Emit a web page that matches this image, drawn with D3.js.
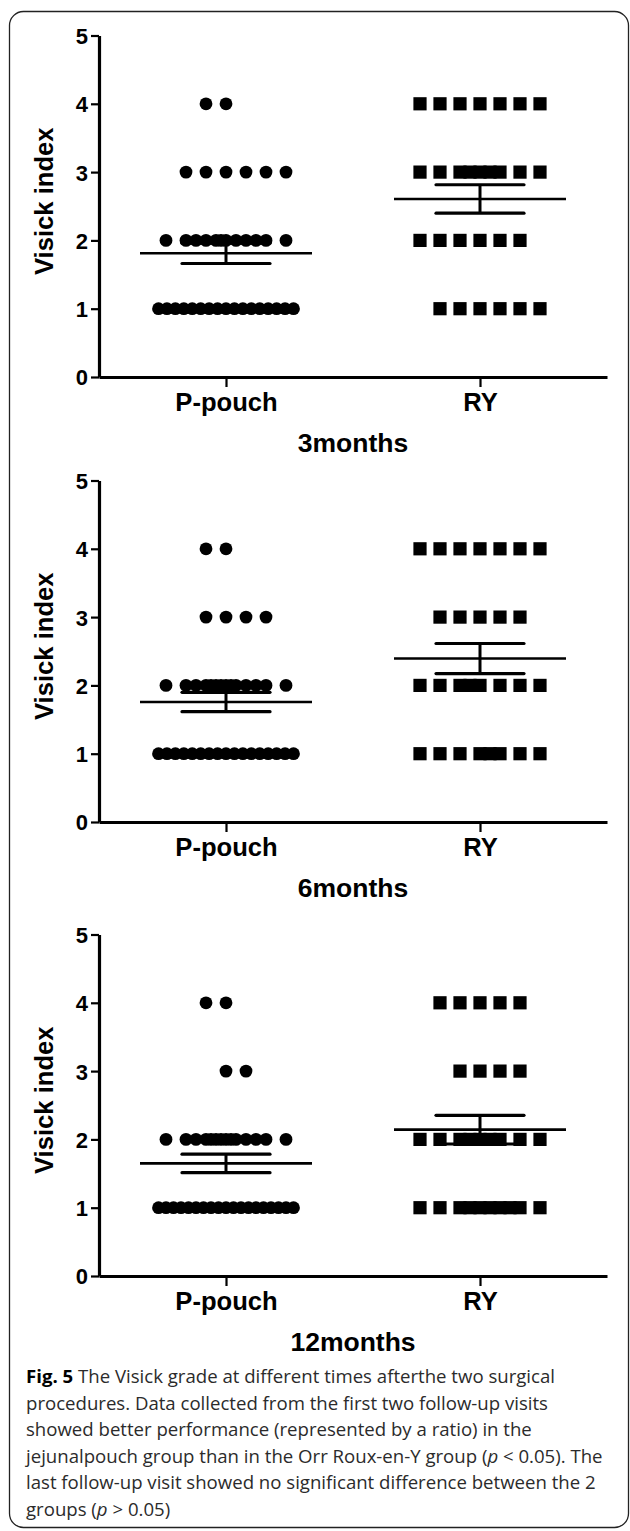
<!DOCTYPE html>
<html>
<head>
<meta charset="utf-8">
<script src="https://d3js.org/d3.v7.min.js"></script>
<style>
  body { margin: 0; background: #fff; }
  .chart text { font-family: "Liberation Sans", Arial, sans-serif; }
  .caption text { font-family: "Open Sans", sans-serif; }
</style>
</head>
<body>
<script>

var groups = ["P-pouch", "RY"];
var grades = [4, 3, 2, 1];
var panelTitles = ["3months", "6months", "12months"];
// number of patients at each Visick grade (4, 3, 2, 1), counted off the dot plots
var pouchCounts = [[2, 6, 12, 17], [2, 4, 14, 17], [2, 2, 14, 19]];
var ryCounts    = [[7, 9, 6, 6],   [7, 5, 8, 8],   [5, 4, 9, 10]];
var yTicks = [0, 1, 2, 3, 4, 5];
var captionLines = [
  "**Fig. 5** The Visick grade at different times afterthe two surgical",
  "procedures. Data collected from the first two follow-up visits",
  "showed better performance (represented by a ratio) in the",
  "jejunalpouch group than in the Orr Roux-en-Y group (*p* < 0.05). The",
  "last follow-up visit showed no significant difference between the 2",
  "groups (*p* > 0.05)"
];

var W = 630, H = 1531;
var zeroY = [377, 822, 1276];
var axisLeft = 99, axisRight = 607, plotH = 341.5;
var pitch = 20;

var svg = d3.select("body").append("svg")
    .attr("width", W)
    .attr("height", H);

svg.append("rect")
    .attr("x", 9.5).attr("y", 11.5)
    .attr("width", 619).attr("height", 1516)
    .attr("rx", 14)
    .attr("fill", "none")
    .attr("stroke", "#222")
    .attr("stroke-width", 1.3);

var x = d3.scalePoint().domain(groups).range([axisLeft, axisRight]).padding(0.5);

// spread of the points in one row, in slot units (Prism style scatter)
function slotOffsets(n, grade) {
  var s = grade % 2 === 0 ? -1 : 1;
  var out = [], i;
  if (n >= 15) {
    for (i = 0; i < n; i++) out.push(-3.375 + 6.75 * i / (n - 1));
    return out;
  }
  if (n <= 7) {
    var start = -(n - 1) / 2 + (n % 2 === 0 ? s * 0.5 : 0);
    for (i = 0; i < n; i++) out.push(start + i);
    return out;
  }
  for (i = -3; i <= 3; i++) out.push(i);
  var extra = [s * 0.5, -s * 0.5, s * 1.5, -s * 1.5, s * 0.25, -s * 0.25,
               s * 0.75, -s * 0.75, s * 1.25, -s * 1.25, s * 1.75, -s * 1.75];
  for (i = 0; i < n - 7; i++) out.push(extra[i]);
  return out;
}

function stats(counts) {
  var vals = [];
  grades.forEach(function(g, i) { for (var k = 0; k < counts[i]; k++) vals.push(g); });
  var m = d3.mean(vals);
  var sem = d3.deviation(vals) / Math.sqrt(vals.length);
  return { mean: m, lo: m - sem, hi: m + sem };
}

var chart = svg.append("g").attr("class", "chart");

panelTitles.forEach(function(title, p) {
  var y = d3.scaleLinear().domain([0, 5]).range([zeroY[p], zeroY[p] - plotH]);
  var g = chart.append("g");

  var yAxis = g.append("g")
      .attr("transform", "translate(" + axisLeft + ",0)")
      .call(d3.axisLeft(y).tickValues(yTicks).tickFormat(d3.format("d")).tickSize(8).tickSizeOuter(0).tickPadding(3));
  var xAxis = g.append("g")
      .attr("transform", "translate(0," + zeroY[p] + ")")
      .call(d3.axisBottom(x).tickSize(10).tickSizeOuter(0).tickPadding(6));

  [yAxis, xAxis].forEach(function(a) {
    a.select(".domain").attr("stroke", "#000").attr("stroke-width", 3.2);
    a.selectAll(".tick line").attr("stroke", "#000").attr("stroke-width", 2.2);
    a.selectAll("text").attr("fill", "#000").attr("font-weight", "bold");
  });
  yAxis.selectAll("text").attr("font-size", 22).attr("dy", "0.36em");
  xAxis.selectAll("text").attr("font-size", 25.6).attr("dy", "0.71em");

  g.append("text")
      .attr("transform", "translate(53," + (zeroY[p] - plotH / 2 - 5) + ") rotate(-90)")
      .attr("text-anchor", "middle")
      .attr("font-size", 25.6)
      .attr("font-weight", "bold")
      .text("Visick index");

  g.append("text")
      .attr("x", (axisLeft + axisRight) / 2)
      .attr("y", zeroY[p] + 74.5)
      .attr("text-anchor", "middle")
      .attr("font-size", 26.5)
      .attr("font-weight", "bold")
      .text(title);

  // points
  [pouchCounts[p], ryCounts[p]].forEach(function(counts, gi) {
    var cx = x(groups[gi]);
    var pts = [];
    grades.forEach(function(gr, i) {
      slotOffsets(counts[i], gr).forEach(function(o) { pts.push({ x: cx + o * pitch, v: gr }); });
    });
    if (gi === 0) {
      g.selectAll(null).data(pts).enter().append("circle")
          .attr("cx", function(d) { return d.x; })
          .attr("cy", function(d) { return y(d.v); })
          .attr("r", 6.4)
          .attr("fill", "#000");
    } else {
      g.selectAll(null).data(pts).enter().append("rect")
          .attr("x", function(d) { return d.x - 6.6; })
          .attr("y", function(d) { return y(d.v) - 6.6; })
          .attr("width", 13.2).attr("height", 13.2)
          .attr("fill", "#000");
    }

    var s = stats(counts);
    g.append("line")
        .attr("x1", cx - 86).attr("x2", cx + 86)
        .attr("y1", y(s.mean)).attr("y2", y(s.mean))
        .attr("stroke", "#000").attr("stroke-width", 2.6);
    g.append("line")
        .attr("x1", cx).attr("x2", cx)
        .attr("y1", y(s.lo)).attr("y2", y(s.hi))
        .attr("stroke", "#000").attr("stroke-width", 3);
    [s.lo, s.hi].forEach(function(v) {
      g.append("line")
          .attr("x1", cx - 44).attr("x2", cx + 44)
          .attr("y1", y(v)).attr("y2", y(v))
          .attr("stroke", "#000").attr("stroke-width", 3.2)
          .attr("stroke-linecap", "round");
    });
  });
});

// caption
var cap = svg.append("g")
    .attr("class", "caption")
    .attr("fill", "#2b2b2b");
var capFont = 18;
var capLines = cap.selectAll("text").data(captionLines).enter().append("text")
    .attr("x", 26)
    .attr("y", function(d, i) { return 1383 + i * 26.6; })
    .attr("font-size", capFont);

capLines.each(function(line) {
  var t = d3.select(this);
  line.split(/(\*\*[^*]+\*\*|\*[^*]+\*)/).forEach(function(part) {
    if (!part) return;
    var ts = t.append("tspan");
    if (part.indexOf("**") === 0) ts.attr("font-weight", "bold").attr("fill", "#000").text(part.slice(2, -2));
    else if (part.indexOf("*") === 0) ts.attr("font-style", "italic").text(part.slice(1, -1));
    else ts.text(part);
  });
});

// match the widest caption line to the picture (about 577px)
var widest = d3.max(capLines.nodes(), function(n) { return n.getComputedTextLength(); });
capLines.attr("font-size", capFont * 577 / widest);

</script>
</body>
</html>
